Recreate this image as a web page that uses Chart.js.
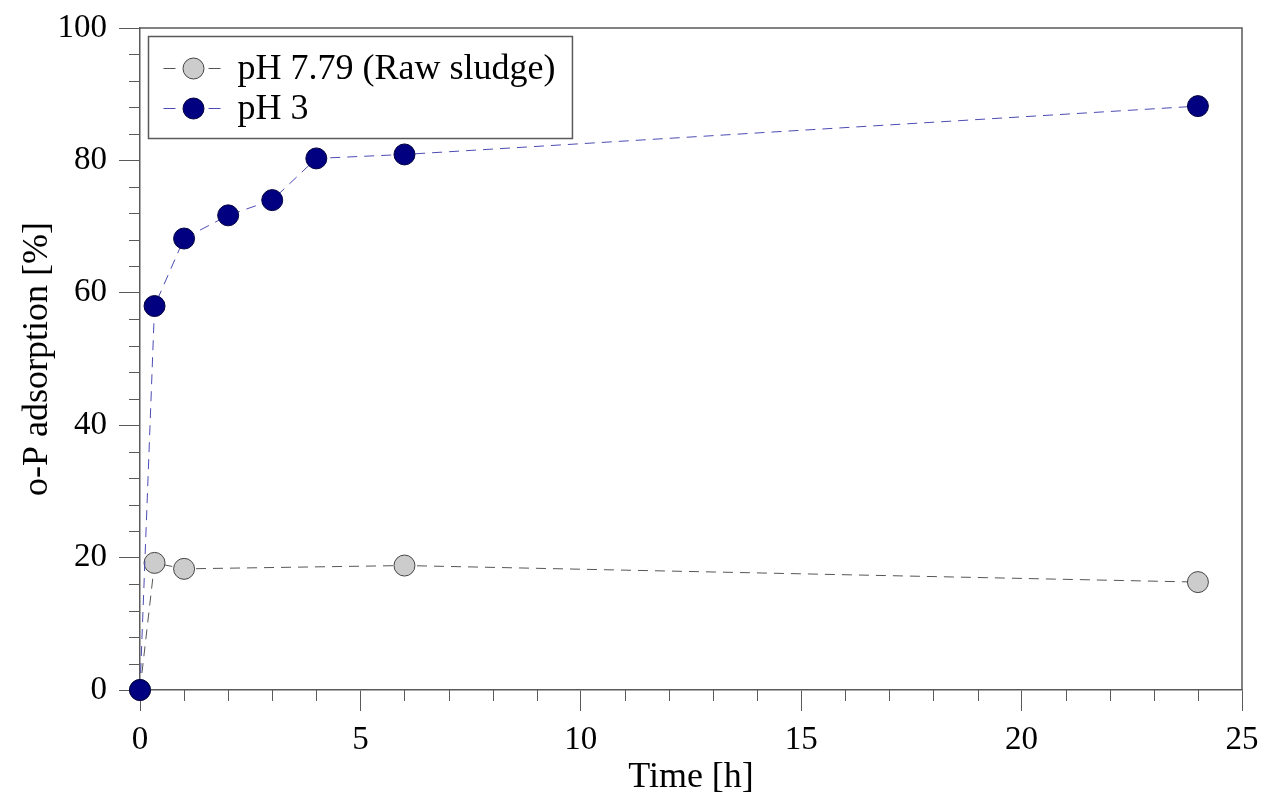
<!DOCTYPE html>
<html>
<head>
<meta charset="utf-8">
<title>o-P adsorption over time</title>
<script src="https://cdn.jsdelivr.net/npm/chart.js@4.4.1/dist/chart.umd.min.js"></script>
<style>
  html, body { margin: 0; padding: 0; background: #ffffff; }
  #wrap { width: 1264px; height: 806px; position: relative; }
</style>
</head>
<body>
<div id="wrap"><canvas id="chart" width="1264" height="806"></canvas></div>
<script>
// Sampling times [h] and o-P adsorption [%] for each sludge condition
const timeRaw = [0, 0.33, 1, 6, 24];
const adsorptionRaw = [0, 19.2, 18.3, 18.8, 16.3];
const timePH3 = [0, 0.33, 1, 2, 3, 4, 6, 24];
const adsorptionPH3 = [0, 58.0, 68.2, 71.7, 74.0, 80.3, 80.9, 88.2];

const seriesLabels = ['pH 7.79 (Raw sludge)', 'pH 3'];
const xTitle = 'Time [h]';
const yTitle = 'o-P adsorption [%]';

const xRange = [0, 25];
const yRange = [0, 100];
const xMajorStep = 5, xMinorStep = 1;
const yMajorStep = 20, yMinorStep = 4;

const SERIF = '"Liberation Serif", "Times New Roman", Times, serif';
const AXIS_COLOR = '#5a5a5a';

function toPoints(xs, ys) {
  return xs.map((x, i) => ({ x: x, y: ys[i] }));
}

// Frame, minor tick marks and the boxed legend
const decorations = {
  id: 'decorations',
  afterDraw(chart) {
    const { ctx, chartArea: a, scales } = chart;
    const xs = scales.x, ys = scales.y;
    ctx.save();
    ctx.strokeStyle = AXIS_COLOR;
    ctx.lineWidth = 1.5;

    // top and right edges of the plot frame
    ctx.beginPath();
    ctx.moveTo(a.left, a.top);
    ctx.lineTo(a.right, a.top);
    ctx.lineTo(a.right, a.bottom);
    ctx.stroke();

    // minor ticks
    ctx.lineWidth = 1;
    ctx.beginPath();
    for (let v = xRange[0]; v <= xRange[1]; v += xMinorStep) {
      if (v % xMajorStep === 0) continue;
      const px = Math.round(xs.getPixelForValue(v)) + 0.5;
      ctx.moveTo(px, a.bottom);
      ctx.lineTo(px, a.bottom + 11);
    }
    for (let v = yRange[0]; v <= yRange[1]; v += yMinorStep) {
      if (v % yMajorStep === 0) continue;
      const py = Math.round(ys.getPixelForValue(v)) + 0.5;
      ctx.moveTo(a.left, py);
      ctx.lineTo(a.left - 11, py);
    }
    ctx.stroke();

    // legend
    const datasets = chart.data.datasets;
    ctx.font = '36px ' + SERIF;
    let maxW = 0;
    datasets.forEach(d => { maxW = Math.max(maxW, ctx.measureText(d.label).width); });
    const bx = a.left + 8.5, by = a.top + 8.5;
    const bw = 89 + maxW + 17, bh = 102;
    ctx.fillStyle = '#ffffff';
    ctx.fillRect(bx, by, bw, bh);
    ctx.strokeStyle = AXIS_COLOR;
    ctx.lineWidth = 1.5;
    ctx.strokeRect(bx, by, bw, bh);

    datasets.forEach((d, i) => {
      const cy = by + 32 + i * 40;
      const cx = bx + 45;
      ctx.strokeStyle = d.borderColor;
      ctx.lineWidth = 1;
      ctx.setLineDash([]);
      ctx.beginPath();
      ctx.moveTo(bx + 15, cy); ctx.lineTo(bx + 27, cy);
      ctx.moveTo(bx + 60, cy); ctx.lineTo(bx + 72, cy);
      ctx.stroke();
      ctx.beginPath();
      ctx.arc(cx, cy, d.pointRadius, 0, Math.PI * 2);
      ctx.fillStyle = d.pointBackgroundColor;
      ctx.fill();
      ctx.strokeStyle = d.pointBorderColor;
      ctx.lineWidth = d.pointBorderWidth;
      ctx.stroke();
      ctx.fillStyle = '#000000';
      ctx.textBaseline = 'middle';
      ctx.textAlign = 'left';
      ctx.fillText(d.label, bx + 89, cy + 1);
    });
    ctx.restore();
  }
};

new Chart(document.getElementById('chart'), {
  type: 'scatter',
  data: {
    datasets: [
      {
        label: seriesLabels[0],
        data: toPoints(timeRaw, adsorptionRaw),
        showLine: true,
        borderColor: '#555555',
        borderWidth: 1,
        borderDash: [10, 7],
        pointRadius: 10.5,
        pointBackgroundColor: '#cccccc',
        pointBorderColor: '#444444',
        pointBorderWidth: 1,
        clip: false,
        order: 2
      },
      {
        label: seriesLabels[1],
        data: toPoints(timePH3, adsorptionPH3),
        showLine: true,
        borderColor: '#4b4bb4',
        borderWidth: 1,
        borderDash: [10, 7],
        pointRadius: 10.5,
        pointBackgroundColor: '#000080',
        pointBorderColor: '#000040',
        pointBorderWidth: 1,
        clip: false,
        order: 1
      }
    ]
  },
  options: {
    responsive: false,
    animation: false,
    events: [],
    layout: { padding: { left: 0, right: 22, top: 28, bottom: 0 } },
    plugins: {
      legend: { display: false },
      tooltip: { enabled: false }
    },
    scales: {
      x: {
        type: 'linear',
        min: xRange[0],
        max: xRange[1],
        afterFit(scale) {
          scale.height = 116;
          scale.paddingLeft = 0;
          scale.paddingRight = 0;
        },
        border: { display: true, color: AXIS_COLOR, width: 1.5 },
        grid: { drawOnChartArea: false, drawTicks: true, tickLength: 21, tickColor: AXIS_COLOR, tickWidth: 1 },
        ticks: {
          stepSize: xMajorStep,
          color: '#000000',
          padding: 10,
          maxRotation: 0,
          font: { family: SERIF, size: 33 }
        },
        title: {
          display: true,
          text: xTitle,
          color: '#000000',
          font: { family: SERIF, size: 36, lineHeight: 1 },
          padding: { top: 0, bottom: 10 }
        }
      },
      y: {
        type: 'linear',
        min: yRange[0],
        max: yRange[1],
        afterFit(scale) {
          scale.width = 140;
          scale.paddingTop = 0;
          scale.paddingBottom = 0;
        },
        border: { display: true, color: AXIS_COLOR, width: 1.5 },
        grid: { drawOnChartArea: false, drawTicks: true, tickLength: 21, tickColor: AXIS_COLOR, tickWidth: 1 },
        ticks: {
          stepSize: yMajorStep,
          color: '#000000',
          padding: 12,
          font: { family: SERIF, size: 33 }
        },
        title: {
          display: true,
          text: yTitle,
          color: '#000000',
          font: { family: SERIF, size: 36, lineHeight: 1 },
          padding: { top: 20, bottom: 0 }
        }
      }
    }
  },
  plugins: [decorations]
});
</script>
</body>
</html>
